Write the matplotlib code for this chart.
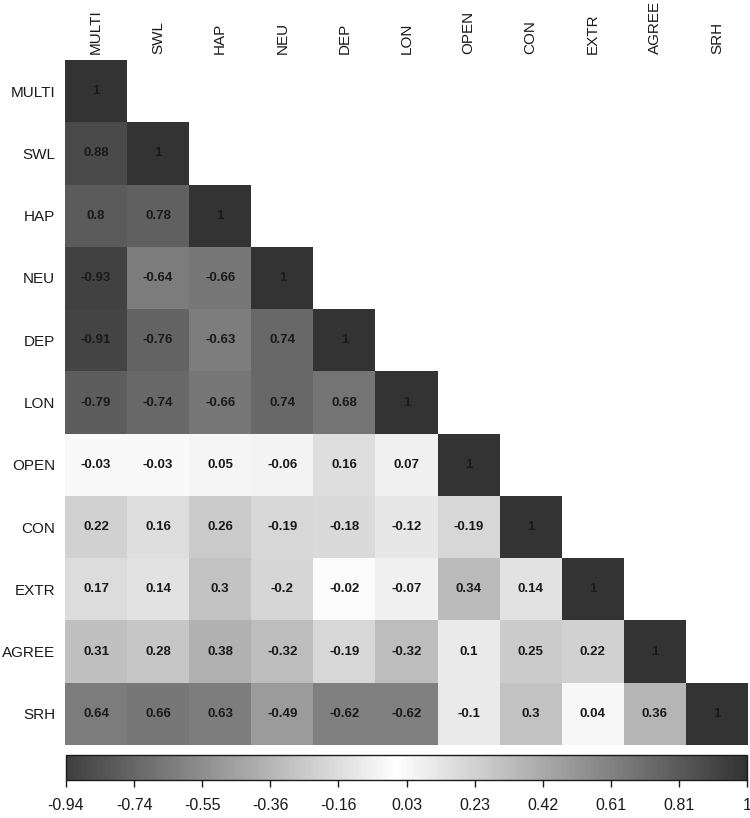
import numpy as np
import matplotlib
matplotlib.use("Agg")
import matplotlib.pyplot as plt
from matplotlib.colors import LinearSegmentedColormap, Normalize

plt.rcParams['font.family'] = ['Liberation Sans', 'DejaVu Sans']

labels = ["MULTI", "SWL", "HAP", "NEU", "DEP", "LON", "OPEN", "CON", "EXTR", "AGREE", "SRH"]

# lower triangle of the correlation matrix, row by row
rows = [
    [1],
    [0.88, 1],
    [0.8, 0.78, 1],
    [-0.93, -0.64, -0.66, 1],
    [-0.91, -0.76, -0.63, 0.74, 1],
    [-0.79, -0.74, -0.66, 0.74, 0.68, 1],
    [-0.03, -0.03, 0.05, -0.06, 0.16, 0.07, 1],
    [0.22, 0.16, 0.26, -0.19, -0.18, -0.12, -0.19, 1],
    [0.17, 0.14, 0.3, -0.2, -0.02, -0.07, 0.34, 0.14, 1],
    [0.31, 0.28, 0.38, -0.32, -0.19, -0.32, 0.1, 0.25, 0.22, 1],
    [0.64, 0.66, 0.63, -0.49, -0.62, -0.62, -0.1, 0.3, 0.04, 0.36, 1],
]

cbar_ticklabels = ["-0.94", "-0.74", "-0.55", "-0.36", "-0.16", "0.03",
                   "0.23", "0.42", "0.61", "0.81", "1"]
vmin, vmax = -0.94, 1.0

n = len(labels)
mat = np.full((n, n), np.nan)
for i, r in enumerate(rows):
    mat[i, :len(r)] = r

# grey scale: dark at both ends, white at zero
def grey(v):
    g = 1 - abs(v) * (1 - 0x33 / 255)
    return (g, g, g)

mid = (0 - vmin) / (vmax - vmin)
cmap = LinearSegmentedColormap.from_list(
    "gw", [(0, grey(vmin)), (mid, (1, 1, 1)), (1, grey(vmax))])
norm = Normalize(vmin, vmax)

fig = plt.figure(figsize=(7.5, 8.18), dpi=100)
ax = fig.add_axes([65 / 750, 1 - 745 / 818, 683 / 750, 685 / 818])

masked = np.ma.masked_invalid(mat)
ax.pcolormesh(np.arange(n + 1), np.arange(n + 1), masked, cmap=cmap, norm=norm)
ax.set_xlim(0, n)
ax.set_ylim(n, 0)

for i in range(n):
    for j in range(i + 1):
        v = mat[i, j]
        ax.text(j + 0.5, i + 0.5, f"{v:g}", ha="center", va="center",
                fontsize=9.5, fontweight="bold", color="#1a1a1a")

ax.xaxis.tick_top()
ax.set_xticks(np.arange(n) + 0.5)
ax.set_xticklabels(labels, rotation=90, fontsize=11, color="#1a1a1a")
ax.set_yticks(np.arange(n) + 0.5)
ax.set_yticklabels(labels, fontsize=11, color="#1a1a1a")
ax.tick_params(axis="x", length=0, pad=4)
ax.tick_params(axis="y", length=0, pad=7)
for s in ax.spines.values():
    s.set_visible(False)

cax = fig.add_axes([66 / 750, 1 - 780 / 818, 681 / 750, 25 / 818])
sm = matplotlib.cm.ScalarMappable(norm=norm, cmap=cmap)
cb = fig.colorbar(sm, cax=cax, orientation="horizontal")
cb.set_ticks(np.linspace(vmin, vmax, len(cbar_ticklabels)))
cb.set_ticklabels(cbar_ticklabels)
cax.tick_params(length=5, width=1, pad=8, labelsize=11.5, color="#1a1a1a",
                labelcolor="#1a1a1a")
cb.outline.set_linewidth(1)
cb.outline.set_edgecolor("#1a1a1a")

fig.savefig("out.png", dpi=100)
